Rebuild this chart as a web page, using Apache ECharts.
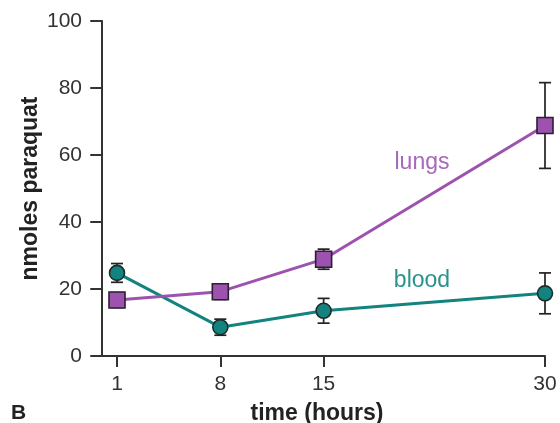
<!DOCTYPE html>
<html>
<head>
<meta charset="utf-8">
<script src="https://cdn.jsdelivr.net/npm/echarts@6/dist/echarts.min.js"></script>
<style>html,body{margin:0;padding:0;background:#fff}#c{width:560px;height:423px}</style>
</head>
<body>
<div id="c"></div>
<script>
const timeHours = [1, 8, 15, 30];
const lungsMean = [16.7, 19.2, 28.9, 68.8];
const lungsErr = [2.2, 2.3, 3.0, 12.8];
const bloodMean = [24.8, 8.6, 13.5, 18.7];
const bloodErr = [2.8, 2.4, 3.7, 6.1];
const yTicks = [0, 20, 40, 60, 80, 100];

const FONT = '"Liberation Sans", Arial, Helvetica, sans-serif';
const AX = '#333333';
const PURPLE = '#9d52b0';
const TEAL = '#13837f';

function pts(xs, ys) { return xs.map((x, i) => [x, ys[i]]); }
function errData(xs, m, e) { return xs.map((x, i) => [x, m[i] - e[i], m[i] + e[i]]); }

function errRender(params, api) {
  const x = api.value(0);
  const lo = api.coord([x, api.value(1)]);
  const hi = api.coord([x, api.value(2)]);
  const w = 6;
  const style = { stroke: '#222', lineWidth: 1.7 };
  return {
    type: 'group',
    children: [
      { type: 'line', shape: { x1: lo[0], y1: lo[1], x2: hi[0], y2: hi[1] }, style },
      { type: 'line', shape: { x1: lo[0] - w, y1: lo[1], x2: lo[0] + w, y2: lo[1] }, style },
      { type: 'line', shape: { x1: hi[0] - w, y1: hi[1], x2: hi[0] + w, y2: hi[1] }, style }
    ]
  };
}

const chart = echarts.init(document.getElementById('c'), null, { renderer: 'canvas' });
chart.setOption({
  backgroundColor: '#ffffff',
  animation: false,
  textStyle: { fontFamily: FONT },
  grid: { left: 99, right: 15, top: 21, bottom: 67, containLabel: false, outerBoundsMode: 'none' },
  xAxis: {
    type: 'value', min: -0.22, max: 30,
    name: 'time (hours)', nameLocation: 'middle', nameGap: 46, nameMoveOverlap: false,
    nameTextStyle: { fontFamily: FONT, fontWeight: 'bold', fontSize: 23, color: '#222', padding: [0, 10, 0, 0] },
    axisLine: { show: true, lineStyle: { color: AX, width: 2 } },
    axisTick: { show: true, length: 11, customValues: timeHours, lineStyle: { color: AX, width: 2 } },
    axisLabel: { customValues: timeHours, fontFamily: FONT, fontSize: 21, color: '#333', margin: 18 },
    splitLine: { show: false }
  },
  yAxis: {
    type: 'value', min: 0, max: 100, interval: 20,
    name: 'nmoles paraquat', nameLocation: 'middle', nameGap: 57, nameRotate: 90, nameMoveOverlap: false,
    nameTextStyle: { fontFamily: FONT, fontWeight: 'bold', fontSize: 23, color: '#222' },
    axisLine: { show: true, lineStyle: { color: AX, width: 2 } },
    axisTick: { show: true, length: 12, lineStyle: { color: AX, width: 2 } },
    axisLabel: { fontFamily: FONT, fontSize: 21, color: '#333', margin: 17,
      formatter: v => yTicks.includes(v) ? String(v) : '' },
    splitLine: { show: false }
  },
  graphic: [
    { type: 'text', x: 11, y: 413, style: { text: 'B', font: 'bold 21px ' + FONT, fill: '#222', verticalAlign: 'middle' } },
    { type: 'text', x: 422, y: 163, style: { text: 'lungs', font: '23px ' + FONT, fill: '#a769b9', align: 'center', verticalAlign: 'middle' } },
    { type: 'text', x: 422, y: 281, style: { text: 'blood', font: '23px ' + FONT, fill: '#2a928d', align: 'center', verticalAlign: 'middle' } }
  ],
  series: [
    { type: 'custom', renderItem: errRender, data: errData(timeHours, lungsMean, lungsErr), z: 1, silent: true },
    { type: 'custom', renderItem: errRender, data: errData(timeHours, bloodMean, bloodErr), z: 1, silent: true },
    { type: 'line', data: pts(timeHours, bloodMean), z: 3,
      lineStyle: { color: TEAL, width: 3 },
      symbol: 'circle', symbolSize: 15,
      itemStyle: { color: TEAL, borderColor: '#1e2b2b', borderWidth: 1.6 } },
    { type: 'line', data: pts(timeHours, lungsMean), z: 4,
      lineStyle: { color: PURPLE, width: 3 },
      symbol: 'rect', symbolSize: 16,
      itemStyle: { color: PURPLE, borderColor: '#2a2030', borderWidth: 1.6 } }
  ]
});
</script>
</body>
</html>
